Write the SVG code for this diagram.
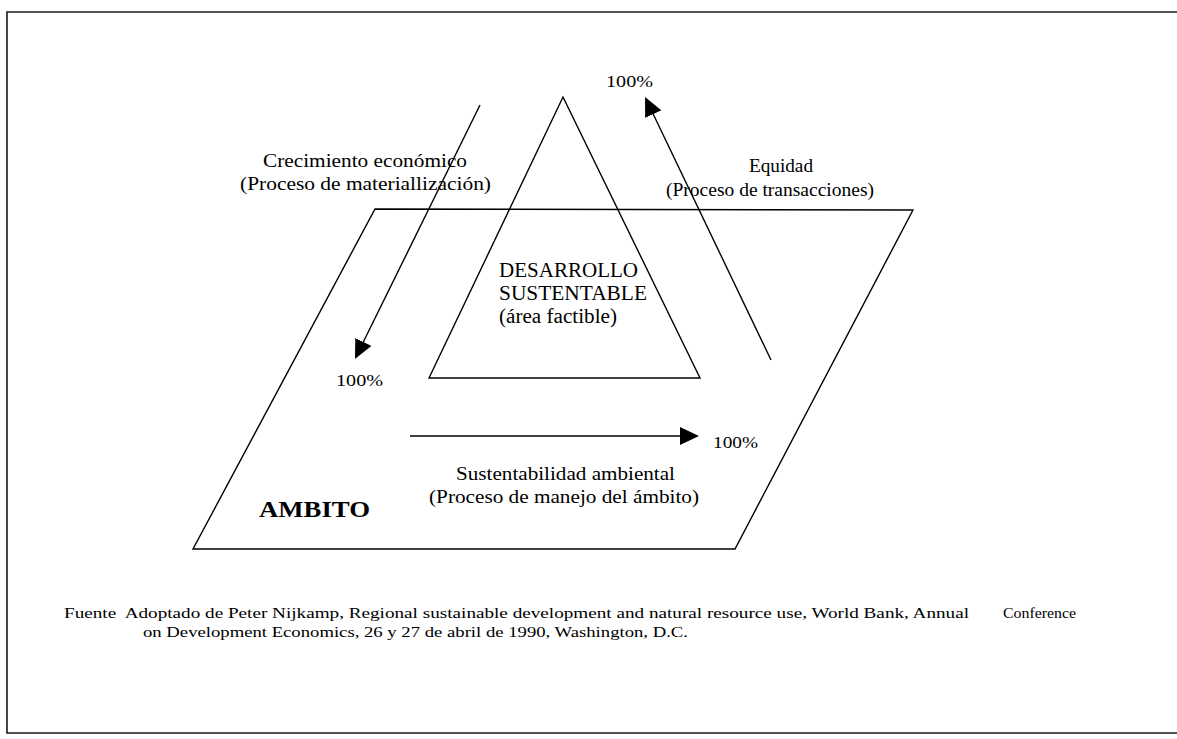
<svg xmlns="http://www.w3.org/2000/svg" width="1177" height="739" viewBox="0 0 1177 739">
  <style>
    .ln { fill: none; stroke: #000; stroke-width: 1.4; stroke-linejoin: miter; }
    .frame { fill: none; stroke: #1a1a1a; stroke-width: 1.6; }
    .t { font-family: "Liberation Serif", "Times New Roman", serif; fill: #000; }
    .lbl { font-size: 18px; }
    .mid { font-size: 20px; }
    .pct { font-size: 16px; }
    .src { font-size: 15px; white-space: pre; }
    .amb { font-size: 24px; font-weight: bold; }
  </style>
  <defs>
    <marker id="head" markerUnits="userSpaceOnUse" markerWidth="20" markerHeight="18" viewBox="0 0 20 18" refX="11" refY="9" orient="auto">
      <path d="M0,0 L19,9 L0,18 z" fill="#000"/>
    </marker>
  </defs>

  <rect width="1177" height="739" fill="#fff"/>

  <!-- page frame -->
  <g id="frame">
    <path class="frame" d="M1177,12 H7 V733 H1177"/>
  </g>

  <!-- AMBITO plane -->
  <g id="ambito">
    <polygon class="ln" points="375,209 913,210 735,549 193,549"/>
    <text class="t amb" x="259" y="517" textLength="111" lengthAdjust="spacingAndGlyphs">AMBITO</text>
  </g>

  <!-- feasible area triangle -->
  <g id="desarrollo">
    <polygon class="ln" points="563,97 700,378 429,378"/>
    <text class="t mid" x="499" y="277" textLength="139" lengthAdjust="spacingAndGlyphs">DESARROLLO</text>
    <text class="t mid" x="499" y="300" textLength="148" lengthAdjust="spacingAndGlyphs">SUSTENTABLE</text>
    <text class="t mid" x="499" y="323" textLength="118" lengthAdjust="spacingAndGlyphs">(área factible)</text>
  </g>

  <!-- process arrows -->
  <g id="connectors">
    <path class="ln" d="M480,105 L358.5,351.8" marker-end="url(#head)"/>
    <path class="ln" d="M771,360 L648.5,104.2" marker-end="url(#head)"/>
    <path class="ln" d="M410,436 L691,436" marker-end="url(#head)"/>
  </g>

  <g id="crecimiento">
    <text class="t lbl" x="263" y="167" textLength="204" lengthAdjust="spacingAndGlyphs">Crecimiento económico</text>
    <text class="t lbl" x="240" y="190" textLength="251" lengthAdjust="spacingAndGlyphs">(Proceso de materiallización)</text>
    <text class="t pct" x="336" y="386" textLength="47" lengthAdjust="spacingAndGlyphs">100%</text>
  </g>

  <g id="equidad">
    <text class="t lbl" x="749" y="172" textLength="64" lengthAdjust="spacingAndGlyphs">Equidad</text>
    <text class="t lbl" x="666" y="196" textLength="208" lengthAdjust="spacingAndGlyphs">(Proceso de transacciones)</text>
    <text class="t pct" x="606" y="87" textLength="47" lengthAdjust="spacingAndGlyphs">100%</text>
  </g>

  <g id="sustentabilidad">
    <text class="t lbl" x="456" y="480" textLength="219" lengthAdjust="spacingAndGlyphs">Sustentabilidad ambiental</text>
    <text class="t lbl" x="429" y="503" textLength="270" lengthAdjust="spacingAndGlyphs">(Proceso de manejo del ámbito)</text>
    <text class="t pct" x="713" y="448" textLength="45" lengthAdjust="spacingAndGlyphs">100%</text>
  </g>

  <!-- source note -->
  <g id="fuente">
    <text class="t src" x="64" y="618" textLength="905" lengthAdjust="spacingAndGlyphs">Fuente  Adoptado de Peter Nijkamp, Regional sustainable development and natural resource use, World Bank, Annual</text>
    <text class="t src" x="1003" y="618" textLength="73" lengthAdjust="spacingAndGlyphs">Conference</text>
    <text class="t src" x="143" y="637" textLength="545" lengthAdjust="spacingAndGlyphs">on Development Economics, 26 y 27 de abril de 1990, Washington, D.C.</text>
  </g>
</svg>
